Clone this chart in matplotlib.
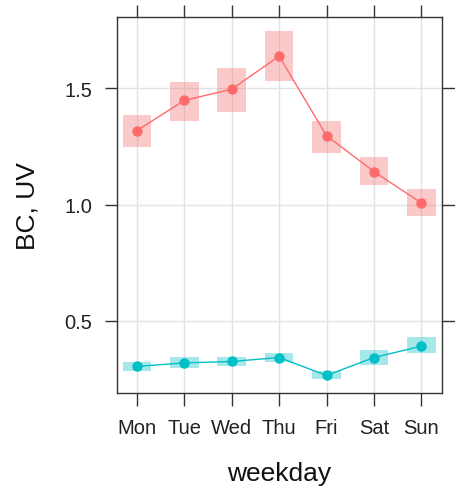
import matplotlib
matplotlib.use("Agg")
import matplotlib.pyplot as plt
import numpy as np

plt.rcParams["font.family"] = ["Liberation Sans", "DejaVu Sans"]

# day-of-week means with lower / upper confidence bounds
days = ["Mon", "Tue", "Wed", "Thu", "Fri", "Sat", "Sun"]
bc_mean = [1.318, 1.448, 1.496, 1.638, 1.296, 1.142, 1.007]
bc_lower = [1.248, 1.361, 1.398, 1.530, 1.224, 1.083, 0.953]
bc_upper = [1.387, 1.529, 1.588, 1.746, 1.359, 1.203, 1.068]
uv_mean = [0.305, 0.320, 0.326, 0.343, 0.266, 0.343, 0.392]
uv_lower = [0.284, 0.296, 0.307, 0.322, 0.251, 0.312, 0.361]
uv_upper = [0.325, 0.346, 0.346, 0.363, 0.283, 0.375, 0.430]
y_ticks = [0.5, 1.0, 1.5]

series = [
    (bc_mean, bc_lower, bc_upper, "#FF6B6B", "#F47A7A"),
    (uv_mean, uv_lower, uv_upper, "#00BFC6", "#22C3CB"),
]

fig = plt.figure(figsize=(4.55, 4.89), dpi=100)
ax = fig.add_axes([0.257, 0.194, 0.714, 0.769])

x = np.arange(len(days))
for mean, lo, hi, col, fill in series:
    lo = np.array(lo)
    hi = np.array(hi)
    ax.bar(x, hi - lo, bottom=lo, width=0.6, color=fill, alpha=0.4,
           linewidth=0, zorder=2)
    ax.plot(x, mean, color=col, lw=1, marker="o", ms=6.5, zorder=3)

ax.set_xlim(-0.42, 6.43)
ax.set_ylim(0.19, 1.806)
ax.set_xticks(x)
ax.set_xticklabels(days)
ax.set_yticks(y_ticks)
ax.set_yticklabels([f"{v:.1f}" for v in y_ticks])

ax.grid(True, color="#E3E3E3", lw=1, zorder=0)
ax.set_axisbelow(True)
for s in ax.spines.values():
    s.set_color("#333333")
    s.set_linewidth(1)

ax.tick_params(axis="both", direction="out", length=9, width=1, color="#333333",
               labelsize=14.5, labelcolor="#222222",
               top=True, right=True, labeltop=False, labelright=False)
ax.tick_params(axis="x", pad=9)
ax.tick_params(axis="y", pad=9)

ax.set_xlabel("weekday", fontsize=19, labelpad=17, color="#111111")
ax.set_ylabel("BC, UV", fontsize=19, labelpad=18, color="#111111")

fig.savefig("out.png", dpi=100)
